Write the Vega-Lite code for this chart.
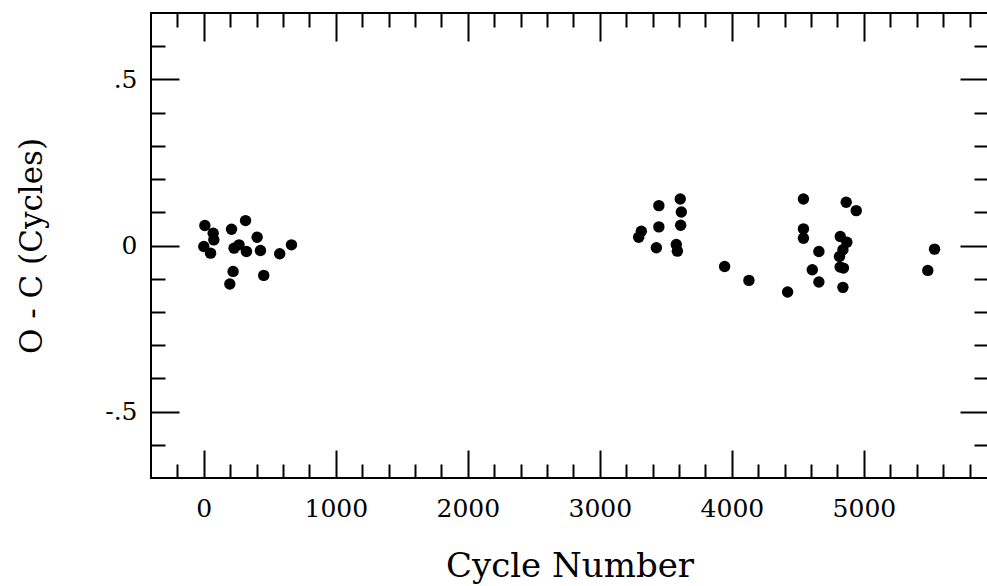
{
  "$schema": "https://vega.github.io/schema/vega-lite/v6.json",
  "autosize": "none",
  "width": 837,
  "height": 465,
  "padding": {"left": 151, "top": 13, "right": 0, "bottom": 108},
  "background": "white",
  "config": {
    "view": {"stroke": "black", "strokeWidth": 2},
    "axis": {
      "grid": false,
      "domain": false,
      "tickColor": "black",
      "tickWidth": 2,
      "labelColor": "black",
      "labelFont": "DejaVu Serif",
      "labelFontSize": 25,
      "titleFont": "DejaVu Serif",
      "titleFontWeight": "normal",
      "titleColor": "black"
    }
  },
  "data": {
    "values": [
      {"cycle": 8, "oc": 0.060}, {"cycle": 71, "oc": 0.037}, {"cycle": 76, "oc": 0.017},
      {"cycle": 0, "oc": -0.003}, {"cycle": 51, "oc": -0.023}, {"cycle": 210, "oc": 0.049},
      {"cycle": 316, "oc": 0.075}, {"cycle": 267, "oc": 0.002}, {"cycle": 229, "oc": -0.008},
      {"cycle": 323, "oc": -0.018}, {"cycle": 404, "oc": 0.025}, {"cycle": 429, "oc": -0.015},
      {"cycle": 575, "oc": -0.025}, {"cycle": 664, "oc": 0.002}, {"cycle": 222, "oc": -0.078},
      {"cycle": 197, "oc": -0.116}, {"cycle": 454, "oc": -0.090},
      {"cycle": 3447, "oc": 0.120}, {"cycle": 3609, "oc": 0.140}, {"cycle": 3617, "oc": 0.101},
      {"cycle": 3612, "oc": 0.061}, {"cycle": 3447, "oc": 0.056}, {"cycle": 3314, "oc": 0.043},
      {"cycle": 3294, "oc": 0.025}, {"cycle": 3428, "oc": -0.007}, {"cycle": 3579, "oc": 0.003},
      {"cycle": 3587, "oc": -0.017},
      {"cycle": 3945, "oc": -0.063}, {"cycle": 4129, "oc": -0.105}, {"cycle": 4422, "oc": -0.140},
      {"cycle": 4542, "oc": 0.140}, {"cycle": 4866, "oc": 0.130}, {"cycle": 4942, "oc": 0.105},
      {"cycle": 4542, "oc": 0.050}, {"cycle": 4542, "oc": 0.022}, {"cycle": 4659, "oc": -0.018},
      {"cycle": 4821, "oc": 0.027}, {"cycle": 4871, "oc": 0.010}, {"cycle": 4841, "oc": -0.013},
      {"cycle": 4815, "oc": -0.033}, {"cycle": 4820, "oc": -0.065}, {"cycle": 4845, "oc": -0.068},
      {"cycle": 4609, "oc": -0.073}, {"cycle": 4659, "oc": -0.110}, {"cycle": 4841, "oc": -0.126},
      {"cycle": 5535, "oc": -0.011}, {"cycle": 5484, "oc": -0.075}
    ]
  },
  "resolve": {"axis": {"x": "independent", "y": "independent"}},
  "layer": [
    {
      "mark": {"type": "circle", "color": "black", "opacity": 1, "size": 130},
      "encoding": {
        "x": {
          "field": "cycle", "type": "quantitative",
          "scale": {"domain": [-400, 5940], "nice": false, "zero": false},
          "axis": {
            "orient": "bottom",
            "values": [0, 1000, 2000, 3000, 4000, 5000],
            "format": "d",
            "tickSize": -28,
            "labelPadding": 46,
            "labelFlush": false,
            "title": "Cycle Number",
            "titleFontSize": 34,
            "titleY": 98,
            "titleBaseline": "alphabetic"
          }
        },
        "y": {
          "field": "oc", "type": "quantitative",
          "scale": {"domain": [-0.7, 0.7], "nice": false, "zero": false},
          "axis": {
            "orient": "left",
            "values": [-0.5, 0, 0.5],
            "labelExpr": "datum.value == 0 ? '0' : (datum.value < 0 ? '-' : '') + '.' + toString(round(abs(datum.value) * 10))",
            "tickSize": -28,
            "labelPadding": 42,
            "labelFlush": false,
            "title": "O - C (Cycles)",
            "titleFontSize": 31,
            "titleX": -110,
            "titleBaseline": "alphabetic"
          }
        }
      }
    },
    {
      "mark": {"type": "point", "opacity": 0},
      "encoding": {
        "x": {
          "field": "cycle", "type": "quantitative",
          "axis": {
            "orient": "bottom",
            "values": [-200, 200, 400, 600, 800, 1200, 1400, 1600, 1800, 2200, 2400, 2600, 2800, 3200, 3400, 3600, 3800, 4200, 4400, 4600, 4800, 5200, 5400, 5600, 5800],
            "tickSize": -14, "labels": false, "title": null
          }
        },
        "y": {
          "field": "oc", "type": "quantitative",
          "axis": {
            "orient": "left",
            "values": [-0.6, -0.4, -0.3, -0.2, -0.1, 0.1, 0.2, 0.3, 0.4, 0.6],
            "tickSize": -14, "labels": false, "title": null
          }
        }
      }
    },
    {
      "mark": {"type": "point", "opacity": 0},
      "encoding": {
        "x": {
          "field": "cycle", "type": "quantitative",
          "axis": {
            "orient": "top",
            "values": [0, 1000, 2000, 3000, 4000, 5000],
            "tickSize": -28, "labels": false, "title": null
          }
        },
        "y": {
          "field": "oc", "type": "quantitative",
          "axis": {
            "orient": "right",
            "values": [-0.5, 0, 0.5],
            "tickSize": -28, "labels": false, "title": null
          }
        }
      }
    },
    {
      "mark": {"type": "point", "opacity": 0},
      "encoding": {
        "x": {
          "field": "cycle", "type": "quantitative",
          "axis": {
            "orient": "top",
            "values": [-200, 200, 400, 600, 800, 1200, 1400, 1600, 1800, 2200, 2400, 2600, 2800, 3200, 3400, 3600, 3800, 4200, 4400, 4600, 4800, 5200, 5400, 5600, 5800],
            "tickSize": -14, "labels": false, "title": null
          }
        },
        "y": {
          "field": "oc", "type": "quantitative",
          "axis": {
            "orient": "right",
            "values": [-0.6, -0.4, -0.3, -0.2, -0.1, 0.1, 0.2, 0.3, 0.4, 0.6],
            "tickSize": -14, "labels": false, "title": null
          }
        }
      }
    }
  ]
}
